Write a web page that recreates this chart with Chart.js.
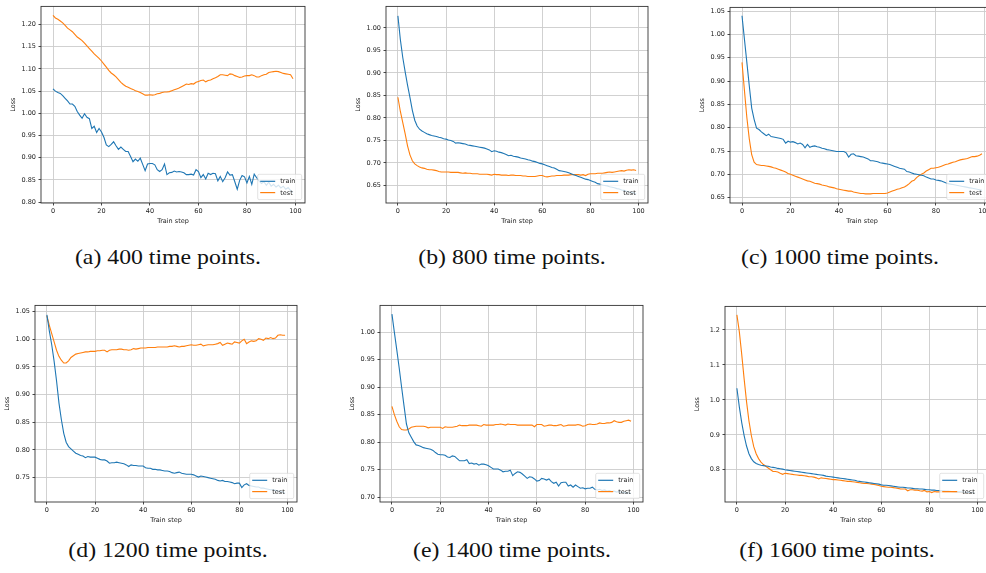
<!DOCTYPE html>
<html>
<head>
<meta charset="utf-8">
<script src="https://cdn.jsdelivr.net/npm/chart.js@4.4.1/dist/chart.umd.min.js"></script>
<style>
  html, body { margin: 0; padding: 0; background: #fff; }
  body { width: 986px; height: 573px; overflow: hidden; position: relative; }
  canvas { position: absolute; }
  .cap {
    position: absolute;
    font-family: "Liberation Serif", "DejaVu Serif", serif;
    font-size: 22px;
    line-height: 22px;
    color: #111;
    white-space: nowrap;
    transform: translateX(-50%) scaleX(1.08);
  }
</style>
</head>
<body>
<script>
// x axis: training steps 0..99
var steps = Array.from({ length: 100 }, function (_, i) { return i; });
var xTicks = [0, 20, 40, 60, 80, 100];

// (a) 400 time points
var trainA = [1.055,1.050,1.047,1.045,1.040,1.034,1.028,1.021,1.021,1.016,
  1.004,0.996,0.989,0.999,0.991,0.988,0.966,0.971,0.957,0.966,
  0.958,0.946,0.929,0.925,0.930,0.936,0.927,0.919,0.924,0.919,
  0.914,0.914,0.903,0.891,0.897,0.892,0.899,0.885,0.871,0.886,
  0.887,0.887,0.884,0.873,0.869,0.873,0.886,0.862,0.866,0.867,
  0.870,0.868,0.869,0.868,0.866,0.862,0.862,0.863,0.861,0.873,
  0.869,0.855,0.862,0.852,0.865,0.862,0.865,0.864,0.848,0.858,
  0.846,0.855,0.868,0.861,0.862,0.846,0.829,0.849,0.860,0.857,
  0.843,0.858,0.840,0.863,0.855,0.848,0.842,0.846,0.838,0.845,
  0.836,0.840,0.834,0.838,0.832,0.836,0.829,0.833,0.826,0.822];
var testA = [1.221,1.215,1.212,1.208,1.204,1.198,1.192,1.188,1.184,1.178,
  1.172,1.168,1.164,1.158,1.152,1.146,1.140,1.134,1.129,1.124,
  1.118,1.111,1.104,1.097,1.091,1.087,1.082,1.076,1.070,1.065,
  1.061,1.059,1.056,1.054,1.051,1.049,1.047,1.044,1.041,1.041,
  1.042,1.041,1.042,1.044,1.045,1.047,1.048,1.048,1.049,1.051,
  1.053,1.055,1.057,1.060,1.063,1.066,1.065,1.067,1.066,1.070,
  1.072,1.074,1.075,1.071,1.074,1.075,1.078,1.080,1.083,1.087,
  1.087,1.086,1.085,1.089,1.088,1.085,1.083,1.081,1.082,1.084,
  1.085,1.085,1.087,1.085,1.082,1.082,1.085,1.087,1.088,1.092,
  1.093,1.094,1.095,1.094,1.092,1.090,1.089,1.088,1.087,1.078];
var yTicksA = [0.80, 0.85, 0.90, 0.95, 1.00, 1.05, 1.10, 1.15, 1.20];

// (b) 800 time points
var trainB = [1.027,0.975,0.935,0.903,0.873,0.846,0.817,0.795,0.782,0.775,
  0.771,0.768,0.765,0.763,0.761,0.760,0.759,0.757,0.756,0.754,
  0.753,0.751,0.750,0.748,0.744,0.745,0.744,0.743,0.742,0.740,
  0.739,0.738,0.737,0.736,0.735,0.734,0.733,0.731,0.729,0.725,
  0.727,0.726,0.724,0.723,0.721,0.719,0.716,0.717,0.715,0.714,
  0.713,0.711,0.710,0.709,0.707,0.706,0.704,0.703,0.701,0.699,
  0.698,0.696,0.694,0.692,0.690,0.689,0.686,0.683,0.682,0.681,
  0.680,0.678,0.676,0.674,0.672,0.670,0.668,0.666,0.664,0.663,
  0.661,0.659,0.657,0.654,0.653,0.651,0.650,0.649,0.647,0.646,
  0.645,0.643,0.642,0.640,0.639,0.637,0.636,0.635,0.633,0.631];
var testB = [0.846,0.815,0.790,0.765,0.738,0.718,0.705,0.698,0.694,0.691,
  0.689,0.688,0.686,0.685,0.685,0.684,0.683,0.681,0.680,0.680,
  0.680,0.680,0.679,0.679,0.679,0.679,0.678,0.677,0.678,0.677,
  0.677,0.676,0.676,0.676,0.675,0.675,0.675,0.675,0.674,0.673,
  0.675,0.674,0.674,0.673,0.673,0.673,0.672,0.673,0.673,0.672,
  0.672,0.672,0.671,0.671,0.670,0.670,0.670,0.670,0.671,0.672,
  0.672,0.670,0.669,0.670,0.671,0.671,0.672,0.672,0.672,0.673,
  0.673,0.673,0.674,0.674,0.674,0.674,0.673,0.674,0.672,0.675,
  0.676,0.676,0.676,0.677,0.677,0.677,0.678,0.679,0.680,0.679,
  0.680,0.681,0.682,0.683,0.682,0.684,0.685,0.684,0.685,0.683];
var yTicksB = [0.65, 0.70, 0.75, 0.80, 0.85, 0.90, 0.95, 1.00];

// (c) 1000 time points
var trainC = [1.040,0.990,0.940,0.890,0.842,0.818,0.799,0.796,0.791,0.787,
  0.783,0.786,0.781,0.780,0.779,0.778,0.777,0.775,0.767,0.771,
  0.769,0.770,0.768,0.765,0.767,0.764,0.757,0.764,0.758,0.760,
  0.761,0.759,0.758,0.756,0.755,0.753,0.752,0.751,0.750,0.749,
  0.749,0.749,0.749,0.746,0.737,0.743,0.744,0.740,0.739,0.738,
  0.737,0.735,0.733,0.729,0.729,0.728,0.727,0.725,0.724,0.723,
  0.722,0.721,0.719,0.717,0.715,0.713,0.712,0.711,0.706,0.705,
  0.703,0.701,0.700,0.699,0.698,0.697,0.694,0.692,0.690,0.690,
  0.688,0.687,0.686,0.684,0.682,0.680,0.679,0.678,0.677,0.676,
  0.675,0.674,0.673,0.672,0.671,0.670,0.669,0.668,0.667,0.666];
var testC = [0.940,0.880,0.822,0.776,0.742,0.726,0.721,0.720,0.719,0.719,
  0.718,0.717,0.716,0.714,0.713,0.711,0.709,0.707,0.705,0.702,
  0.700,0.698,0.696,0.694,0.692,0.690,0.688,0.686,0.685,0.683,
  0.681,0.680,0.679,0.677,0.676,0.675,0.673,0.672,0.671,0.669,
  0.668,0.667,0.666,0.665,0.664,0.664,0.662,0.661,0.660,0.659,
  0.659,0.658,0.658,0.658,0.659,0.659,0.659,0.659,0.659,0.659,
  0.660,0.662,0.664,0.666,0.668,0.669,0.671,0.673,0.676,0.680,
  0.685,0.687,0.693,0.697,0.700,0.703,0.707,0.710,0.713,0.713,
  0.714,0.715,0.717,0.719,0.721,0.722,0.724,0.726,0.727,0.729,
  0.731,0.732,0.733,0.734,0.736,0.738,0.738,0.739,0.741,0.744];
var yTicksC = [0.65, 0.70, 0.75, 0.80, 0.85, 0.90, 0.95, 1.00, 1.05];

// (d) 1200 time points
var trainD = [1.044,1.015,0.990,0.960,0.925,0.885,0.855,0.830,0.814,0.806,
  0.802,0.798,0.794,0.792,0.790,0.789,0.786,0.788,0.787,0.787,
  0.787,0.785,0.783,0.782,0.782,0.780,0.776,0.777,0.777,0.778,
  0.777,0.776,0.775,0.773,0.770,0.773,0.772,0.772,0.771,0.771,
  0.771,0.768,0.767,0.767,0.765,0.765,0.764,0.764,0.763,0.762,
  0.762,0.761,0.759,0.758,0.759,0.760,0.758,0.757,0.756,0.756,
  0.756,0.755,0.753,0.751,0.753,0.752,0.751,0.750,0.749,0.748,
  0.747,0.745,0.744,0.745,0.743,0.743,0.742,0.741,0.739,0.740,
  0.740,0.732,0.737,0.739,0.736,0.735,0.734,0.733,0.733,0.731,
  0.731,0.730,0.729,0.728,0.728,0.727,0.726,0.725,0.724,0.722];
var testD = [1.042,1.025,1.010,0.995,0.980,0.969,0.962,0.957,0.957,0.961,
  0.967,0.970,0.973,0.974,0.975,0.976,0.977,0.977,0.978,0.978,
  0.978,0.979,0.979,0.980,0.980,0.977,0.980,0.981,0.981,0.981,
  0.982,0.982,0.981,0.981,0.980,0.981,0.983,0.982,0.983,0.984,
  0.984,0.984,0.985,0.985,0.985,0.985,0.986,0.986,0.986,0.986,
  0.986,0.987,0.987,0.988,0.987,0.986,0.987,0.987,0.988,0.989,
  0.990,0.989,0.989,0.990,0.991,0.988,0.989,0.990,0.990,0.990,
  0.991,0.992,0.994,0.989,0.991,0.993,0.992,0.991,0.995,0.994,
  0.993,0.997,1.000,0.992,0.995,0.997,0.996,0.997,1.001,1.000,
  0.998,1.002,1.001,1.003,1.001,1.002,1.007,1.008,1.007,1.007];
var yTicksD = [0.75, 0.80, 0.85, 0.90, 0.95, 1.00, 1.05];

// (e) 1400 time points
var trainE = [1.033,1.000,0.968,0.935,0.900,0.866,0.833,0.817,0.809,0.801,
  0.795,0.794,0.792,0.790,0.789,0.788,0.787,0.785,0.781,0.778,
  0.777,0.777,0.776,0.773,0.772,0.775,0.774,0.770,0.766,0.766,
  0.766,0.768,0.761,0.762,0.760,0.761,0.758,0.760,0.760,0.759,
  0.757,0.754,0.751,0.751,0.751,0.749,0.746,0.747,0.747,0.749,
  0.739,0.743,0.746,0.745,0.742,0.738,0.734,0.737,0.736,0.733,
  0.729,0.730,0.734,0.733,0.731,0.733,0.728,0.725,0.727,0.720,
  0.726,0.727,0.727,0.720,0.722,0.718,0.722,0.719,0.716,0.717,
  0.715,0.716,0.716,0.718,0.714,0.713,0.714,0.712,0.713,0.711,
  0.712,0.710,0.711,0.709,0.710,0.709,0.708,0.708,0.707,0.707];
var testE = [0.865,0.850,0.838,0.828,0.823,0.822,0.822,0.824,0.827,0.828,
  0.829,0.829,0.829,0.829,0.828,0.826,0.827,0.827,0.827,0.827,
  0.827,0.825,0.828,0.827,0.827,0.827,0.828,0.829,0.831,0.830,
  0.830,0.830,0.831,0.831,0.831,0.831,0.830,0.829,0.832,0.831,
  0.831,0.831,0.831,0.832,0.832,0.833,0.832,0.831,0.833,0.832,
  0.832,0.832,0.831,0.831,0.831,0.831,0.831,0.831,0.831,0.828,
  0.832,0.832,0.832,0.829,0.830,0.831,0.831,0.830,0.830,0.831,
  0.832,0.829,0.830,0.831,0.831,0.831,0.831,0.832,0.831,0.829,
  0.830,0.832,0.833,0.832,0.832,0.833,0.835,0.834,0.834,0.835,
  0.835,0.836,0.839,0.837,0.836,0.836,0.838,0.839,0.840,0.838];
var yTicksE = [0.70, 0.75, 0.80, 0.85, 0.90, 0.95, 1.00];

// (f) 1600 time points
var trainF = [1.033,0.980,0.935,0.898,0.868,0.846,0.832,0.823,0.818,0.815,
  0.813,0.812,0.811,0.810,0.808,0.807,0.806,0.804,0.803,0.802,
  0.800,0.799,0.798,0.797,0.796,0.795,0.794,0.793,0.792,0.791,
  0.790,0.789,0.788,0.787,0.786,0.785,0.784,0.782,0.781,0.780,
  0.779,0.778,0.777,0.776,0.775,0.774,0.773,0.772,0.771,0.770,
  0.768,0.767,0.766,0.765,0.764,0.763,0.762,0.761,0.760,0.759,
  0.757,0.756,0.756,0.755,0.754,0.753,0.752,0.751,0.750,0.750,
  0.749,0.748,0.748,0.747,0.746,0.746,0.745,0.745,0.744,0.743,
  0.743,0.742,0.742,0.741,0.741,0.740,0.740,0.739,0.739,0.738,
  0.738,0.737,0.737,0.737,0.736,0.736,0.735,0.735,0.734,0.734];
var testF = [1.243,1.195,1.130,1.060,0.995,0.940,0.898,0.866,0.846,0.832,
  0.822,0.815,0.810,0.805,0.800,0.795,0.795,0.794,0.790,0.787,
  0.790,0.789,0.788,0.787,0.786,0.785,0.784,0.784,0.783,0.782,
  0.780,0.780,0.779,0.777,0.774,0.777,0.776,0.775,0.774,0.773,
  0.772,0.772,0.771,0.770,0.769,0.768,0.767,0.767,0.766,0.765,
  0.764,0.763,0.762,0.761,0.761,0.760,0.759,0.758,0.757,0.755,
  0.753,0.752,0.751,0.750,0.750,0.749,0.748,0.747,0.745,0.745,
  0.745,0.740,0.743,0.743,0.742,0.742,0.740,0.739,0.741,0.737,
  0.738,0.735,0.738,0.737,0.737,0.737,0.736,0.737,0.736,0.736,
  0.735,0.736,0.735,0.735,0.734,0.735,0.734,0.734,0.735,0.734];
var yTicksF = [0.8, 0.9, 1.0, 1.1, 1.2];

var captions = ["(a) 400 time points.", "(b) 800 time points.", "(c) 1000 time points.",
  "(d) 1200 time points.", "(e) 1400 time points.", "(f) 1600 time points."];

// plot boxes in page pixels: left, top, right, bottom
var panels = [
  { train: trainA, test: testA, ticks: yTicksA, dec: 2, yMin: 0.798, yMax: 1.241, box: [40.7, 6, 305, 202.7], cap: [168, 245.6] },
  { train: trainB, test: testB, ticks: yTicksB, dec: 2, yMin: 0.611, yMax: 1.048, box: [386, 6, 648.3, 202.7], cap: [512, 245.6] },
  { train: trainC, test: testC, ticks: yTicksC, dec: 2, yMin: 0.6385, yMax: 1.058, box: [730, 6.5, 994, 202.7], cap: [840, 245.6] },
  { train: trainD, test: testD, ticks: yTicksD, dec: 2, yMin: 0.706, yMax: 1.061, box: [35.3, 305, 297.7, 501.7], cap: [168, 538.6] },
  { train: trainE, test: testE, ticks: yTicksE, dec: 2, yMin: 0.691, yMax: 1.049, box: [380, 305, 643.3, 501.7], cap: [512, 538.6] },
  { train: trainF, test: testF, ticks: yTicksF, dec: 1, yMin: 0.708, yMax: 1.267, box: [725.3, 306, 987, 501.7], cap: [837, 538.6] }
];

var blue = "#1f77b4";
var orange = "#ff7f0e";
var textColor = "#222222";
var gridColor = "#cccccc";
var tickFont = { family: "DejaVu Sans", size: 6.5 };
var Y_W = 36, X_H = 24, PAD_T = 6, PAD_R = 10;

var framePlugin = {
  id: "frame",
  afterDatasetsDraw: function (chart) {
    var a = chart.chartArea, ctx = chart.ctx;
    ctx.save();
    ctx.strokeStyle = "#333333";
    ctx.lineWidth = 0.9;
    ctx.strokeRect(a.left, a.top, a.right - a.left, a.bottom - a.top);
    ctx.restore();
  }
};

var legendPlugin = {
  id: "mplLegend",
  afterDraw: function (chart) {
    var a = chart.chartArea, ctx = chart.ctx;
    var w = 44, h = 25.3;
    var x0 = a.right - 3.3 - w, y0 = a.bottom - 3.4 - h;
    ctx.save();
    ctx.beginPath();
    ctx.roundRect(x0, y0, w, h, 1.5);
    ctx.fillStyle = "rgba(255,255,255,0.8)";
    ctx.fill();
    ctx.strokeStyle = "rgba(204,204,204,0.8)";
    ctx.lineWidth = 0.7;
    ctx.stroke();
    ctx.font = "6.5px 'DejaVu Sans'";
    ctx.textBaseline = "middle";
    chart.data.datasets.forEach(function (ds, i) {
      var yy = y0 + 7 + i * 11.3;
      ctx.strokeStyle = ds.borderColor;
      ctx.lineWidth = 1.2;
      ctx.beginPath();
      ctx.moveTo(x0 + 2.5, yy);
      ctx.lineTo(x0 + 17.5, yy);
      ctx.stroke();
      ctx.fillStyle = textColor;
      ctx.fillText(ds.label, x0 + 22.5, yy + 0.3);
    });
    ctx.restore();
  }
};

function points(values) {
  return values.map(function (v, i) { return { x: steps[i], y: v }; });
}

panels.forEach(function (p, idx) {
  var L = p.box[0], T = p.box[1], R = p.box[2], B = p.box[3];
  var canvas = document.createElement("canvas");
  var cw = Math.round(R - L + Y_W + PAD_R), ch = Math.round(B - T + PAD_T + X_H);
  canvas.width = cw;
  canvas.height = ch;
  canvas.style.left = (L - Y_W) + "px";
  canvas.style.top = (T - PAD_T) + "px";
  canvas.style.width = cw + "px";
  canvas.style.height = ch + "px";
  document.body.appendChild(canvas);

  var cap = document.createElement("div");
  cap.className = "cap";
  cap.textContent = captions[idx];
  cap.style.left = p.cap[0] + "px";
  cap.style.top = p.cap[1] + "px";
  document.body.appendChild(cap);

  new Chart(canvas, {
    type: "line",
    data: {
      datasets: [
        { label: "train", data: points(p.train), borderColor: blue, borderWidth: 1.1, pointRadius: 0, tension: 0, fill: false },
        { label: "test", data: points(p.test), borderColor: orange, borderWidth: 1.1, pointRadius: 0, tension: 0, fill: false }
      ]
    },
    options: {
      responsive: false,
      animation: false,
      devicePixelRatio: 1,
      layout: { padding: { left: 0, top: PAD_T, right: PAD_R, bottom: 0 } },
      plugins: { legend: { display: false }, tooltip: { enabled: false } },
      scales: {
        x: {
          type: "linear",
          min: -4.95,
          max: 103.95,
          afterBuildTicks: function (s) { s.ticks = xTicks.map(function (v) { return { value: v }; }); },
          afterFit: function (s) { s.height = X_H; },
          border: { display: false },
          grid: { color: gridColor, lineWidth: 0.9, tickColor: "#333333", tickLength: 2.5 },
          ticks: { color: textColor, font: tickFont, padding: 1.5, maxRotation: 0,
            callback: function (v) { return String(v); } },
          title: { display: true, text: "Train step", color: textColor, font: tickFont, padding: { top: 0, bottom: 2 } }
        },
        y: {
          min: p.yMin,
          max: p.yMax,
          afterBuildTicks: function (s) { s.ticks = p.ticks.map(function (v) { return { value: v }; }); },
          afterFit: function (s) { s.width = Y_W; },
          border: { display: false },
          grid: { color: gridColor, lineWidth: 0.9, tickColor: "#333333", tickLength: 2.5 },
          ticks: { color: textColor, font: tickFont, padding: 2.5,
            callback: function (v) { return v.toFixed(p.dec); } },
          title: { display: true, text: "Loss", color: textColor, font: tickFont, padding: { top: 4, bottom: 0 } }
        }
      }
    },
    plugins: [framePlugin, legendPlugin]
  });
});
</script>
</body>
</html>
